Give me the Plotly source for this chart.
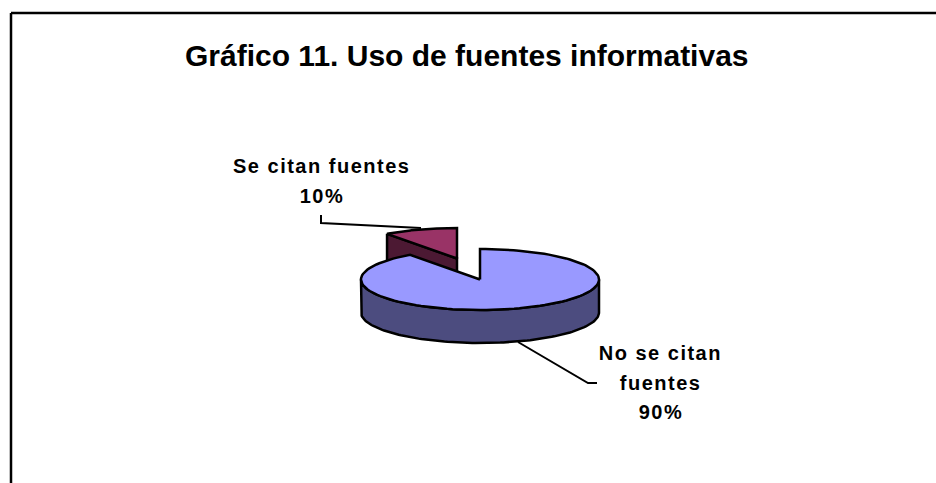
import numpy as np
import plotly.graph_objects as go

# Data
categories = ["No se citan fuentes", "Se citan fuentes"]
shares = [90, 10]
label_main = ["No se citan", "fuentes", "90%"]
label_small = ["Se citan fuentes", "10%"]
title_text = "Gráfico 11. Uso de fuentes informativas"

top_colors = ["#9999FF", "#993366"]
side_colors = ["#4C4C7F", "#4C1933"]

# Pie geometry on a pixel-like axis
cx, cy = 480, 279.5
rx, ry = 119, 30.5
depth = 33
explode = (-23, -21)


def wedge_edge(start, end, dx=0, dy=0):
    # angles clockwise from the top, in degrees
    t = np.radians(np.linspace(start, end, 120))
    return cx + dx + rx * np.sin(t), cy + dy - ry * np.cos(t)


def add_poly(fig, x, y, color, name):
    fig.add_trace(go.Scatter(
        x=list(x), y=list(y), mode='lines', fill='toself', fillcolor=color,
        line=dict(color='black', width=2.5), name=name, hoverinfo='name',
        showlegend=False
    ))


main_end = 360 * shares[0] / sum(shares)
fig = go.Figure()

# Small exploded slice goes first, the big one covers part of it
dx, dy = explode
ax, ay = cx + dx, cy + dy
ex, ey = wedge_edge(main_end, 360, dx, dy)
add_poly(fig, [ex[0], ax, ax, ex[0], ex[0]],
         [ey[0], ay, ay + depth, ey[0] + depth, ey[0]], side_colors[1], categories[1])
add_poly(fig, [ax, *ex, ax], [ay, *ey, ay], top_colors[1], categories[1])

# Big slice: side wall, then top
sx, sy = wedge_edge(90, 270)
add_poly(fig, [*sx, *sx[::-1], sx[0]], [*sy, *(sy[::-1] + depth), sy[0]],
         side_colors[0], categories[0])
mx, my = wedge_edge(0, main_end)
add_poly(fig, [cx, *mx, cx], [cy, *my, cy], top_colors[0], categories[0])

# Frame, open on the right and bottom sides
fig.add_shape(type='line', x0=11, y0=483, x1=11, y1=13, line=dict(color='black', width=2.5))
fig.add_shape(type='line', x0=11, y0=13, x1=936, y1=13, line=dict(color='black', width=2.5))

# Leader lines
fig.add_shape(type='path', path='M 321 215 L 321 223 L 421 228', line=dict(color='black', width=2))
fig.add_shape(type='path', path='M 518 342 L 588 383 L 597 383', line=dict(color='black', width=2))

# Labels go line by line, the original has wide line spacing
label_font = dict(family='Liberation Sans', size=20, color='black')
for text, y in zip(label_main, [353, 383, 412]):
    fig.add_annotation(x=660.5, y=y, text='<b>' + text + '</b>', showarrow=False, font=label_font)
for text, y in zip(label_small, [166, 196]):
    fig.add_annotation(x=321.5, y=y, text='<b>' + text + '</b>', showarrow=False, font=label_font)
fig.add_annotation(x=466.5, y=55, text='<b>' + title_text + '</b>', showarrow=False,
                   font=dict(family='Liberation Sans', size=30, color='black'))

fig.update_layout(
    width=936, height=483,
    margin=dict(l=0, r=0, t=0, b=0),
    plot_bgcolor='white', paper_bgcolor='white',
    showlegend=False,
    xaxis=dict(range=[0, 936], visible=False, fixedrange=True),
    yaxis=dict(range=[483, 0], visible=False, fixedrange=True),
)

# No page margin, and the stretched letter spacing of the five label lines
post_js = """
document.body.style.margin = '0';
document.querySelectorAll('.annotation-text').forEach(function (t) {
    if (t.textContent.indexOf('Uso de') < 0) { t.style.letterSpacing = '1.5px'; }
});
"""

fig.write_html("out.html", config=dict(displayModeBar=False), post_script=post_js)
